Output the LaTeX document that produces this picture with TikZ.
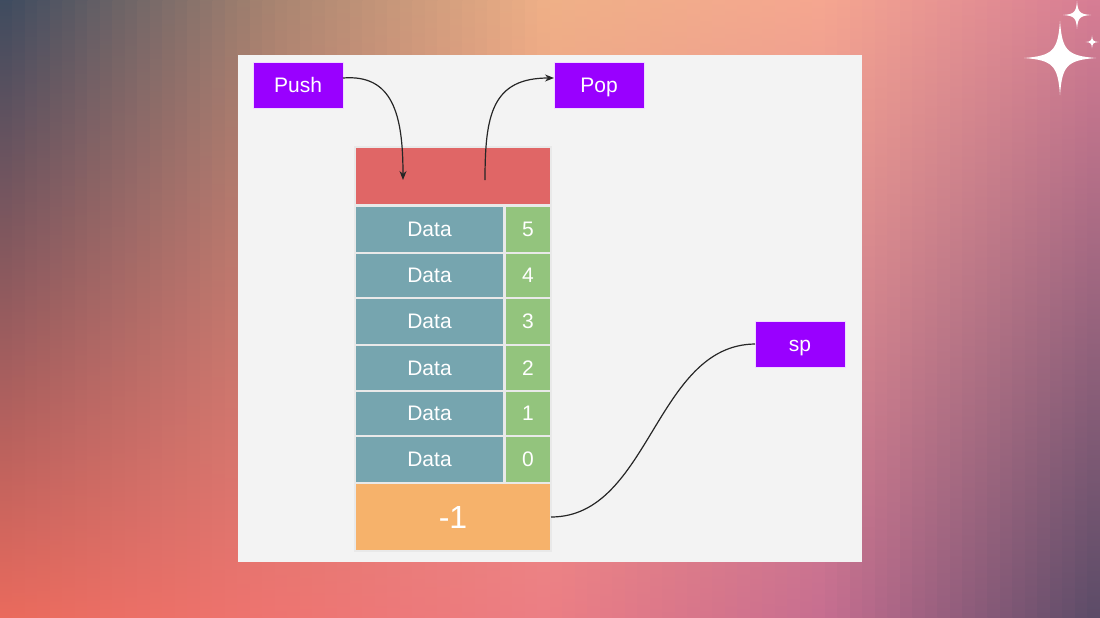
\documentclass[tikz,border=0pt]{standalone}
\usepackage{fontspec}
\setmainfont{Liberation Sans}
\usetikzlibrary{arrows.meta}
\definecolor{T0}{HTML}{3C4A5F}\definecolor{M0}{HTML}{A3646A}\definecolor{B0}{HTML}{EA6A5C}
\definecolor{T1}{HTML}{A88470}\definecolor{M1}{HTML}{C4716C}\definecolor{B1}{HTML}{EE7470}
\definecolor{T2}{HTML}{EFB087}\definecolor{M2}{HTML}{E2928A}\definecolor{B2}{HTML}{EC7E84}
\definecolor{T3}{HTML}{F5A690}\definecolor{M3}{HTML}{D38890}\definecolor{B3}{HTML}{C66E90}
\definecolor{T4}{HTML}{D67C94}\definecolor{M4}{HTML}{B27389}\definecolor{B4}{HTML}{5A4B67}
\definecolor{panelbg}{HTML}{F3F3F3}
\definecolor{purplebox}{HTML}{9900FF}
\definecolor{topred}{HTML}{E06666}
\definecolor{datateal}{HTML}{76A5AF}
\definecolor{idxgreen}{HTML}{93C47D}
\definecolor{baseorange}{HTML}{F6B26B}
\definecolor{cellline}{HTML}{E9E9E9}
\newcommand\bgseg[7]{%
  \foreach \k in {0,...,21}{%
    \pgfmathtruncatemacro\p{100-(\k+0.5)*100/22}%
    \shade[top color=#2!\p!#5, middle color=#3!\p!#6, bottom color=#4!\p!#7]
      (#1+\k*12.5,0) rectangle ++(13.2,618);
  }}
\tikzset{
  lbl/.style={text=white, fill=purplebox, draw=white!85!purplebox, line width=0.8pt,
    minimum width=90pt, minimum height=46pt, inner sep=0pt, outer sep=0pt,
    text height=19pt, text depth=4.4pt,
    font=\fontsize{21}{25}\selectfont, anchor=north west},
  cell/.style={draw=cellline, line width=1.3pt, inner sep=0pt, outer sep=0pt,
    text height=19pt, text depth=4.4pt,
    text=white, anchor=north west, font=\fontsize{21}{25}\selectfont},
  datacell/.style={cell, fill=datateal, minimum width=149pt},
  idxcell/.style={cell, fill=idxgreen, minimum width=46pt},
  conn/.style={draw=black!85, line width=1.2pt},
  sparkle/.pic={\fill[white] (0,-1) .. controls (0.06,-0.2) and (0.2,-0.06) .. (1,0)
     .. controls (0.2,0.06) and (0.06,0.2) .. (0,1)
     .. controls (-0.06,0.2) and (-0.2,0.06) .. (-1,0)
     .. controls (-0.2,-0.06) and (-0.06,-0.2) .. cycle;}
}
\begin{document}
\begin{tikzpicture}[x=1pt,y=-1pt]
\useasboundingbox (0,0) rectangle (1100,618);
\bgseg{0}{T0}{M0}{B0}{T1}{M1}{B1}
\bgseg{275}{T1}{M1}{B1}{T2}{M2}{B2}
\bgseg{550}{T2}{M2}{B2}{T3}{M3}{B3}
\bgseg{825}{T3}{M3}{B3}{T4}{M4}{B4}
\pic[xscale=36,yscale=37] at (1060,58) {sparkle};
\pic[scale=14] at (1077,15) {sparkle};
\pic[scale=6.5] at (1092,42) {sparkle};

\node[fill=panelbg, minimum width=624pt, minimum height=507pt,
  inner sep=0pt, outer sep=0pt, anchor=north west] (panel) at (238,55) {};

\node[lbl] (push) at (253,62) {Push};
\node[lbl] (pop) at (554,62) {Pop};
\node[lbl] (sp) at (755,321) {sp};

\node[cell, fill=topred, minimum width=196pt, minimum height=58pt] (top) at (355,147) {};

\node[datacell, minimum height=47pt] (d5) at (355,206) {Data};
\node[idxcell, minimum height=47pt] (i5) at (505,206) {5};
\node[datacell, minimum height=45pt] (d4) at (355,253) {Data};
\node[idxcell, minimum height=45pt] (i4) at (505,253) {4};
\node[datacell, minimum height=47pt] (d3) at (355,298) {Data};
\node[idxcell, minimum height=47pt] (i3) at (505,298) {3};
\node[datacell, minimum height=46pt] (d2) at (355,345) {Data};
\node[idxcell, minimum height=46pt] (i2) at (505,345) {2};
\node[datacell, minimum height=45pt] (d1) at (355,391) {Data};
\node[idxcell, minimum height=45pt] (i1) at (505,391) {1};
\node[datacell, minimum height=47pt] (d0) at (355,436) {Data};
\node[idxcell, minimum height=47pt] (i0) at (505,436) {0};
\node[cell, fill=baseorange, minimum width=196pt, minimum height=68pt,
  text height=29pt, text depth=6.5pt,
  font=\fontsize{32}{38}\selectfont] (base) at (355,483) {-1};

\coordinate (pushin) at (403,180);
\coordinate (popout) at (485,180);

\draw[conn, -{Stealth[length=9pt,width=7pt]}] ([yshift=7pt]push.east)
  .. controls (393,74) and (403,115) .. (pushin);
\draw[conn, -{Stealth[length=9pt,width=7pt]}] (popout)
  .. controls (485,115) and (492,78) .. ([yshift=7pt]pop.west);
\draw[conn] (base.east) .. controls (650,517) and (655,345) .. (sp.west);
\end{tikzpicture}
\end{document}
